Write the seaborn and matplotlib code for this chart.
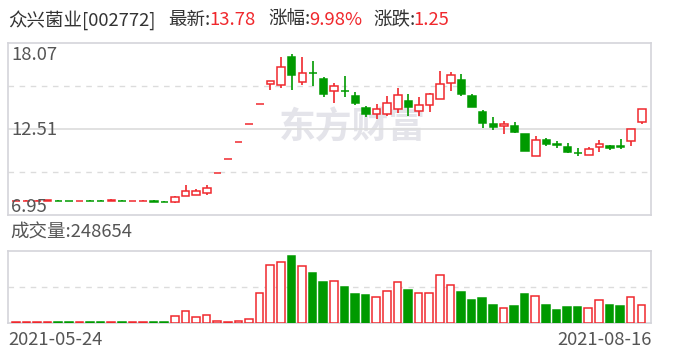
import matplotlib
matplotlib.use("Agg")
import matplotlib.pyplot as plt
import seaborn as sns
import numpy as np
import pandas as pd

# ---------------- data ----------------
stock_name = "众兴菌业[002772]"
latest = "13.78"
pct_change = "9.98%"
change = "1.25"
last_volume = "248654"
start_date = "2021-05-24"
end_date = "2021-08-16"
y_labels = ["18.07", "12.51", "6.95"]
y_min, y_max = 6.95, 18.07

opens = [7.86, 7.87, 7.87, 7.87, 7.88, 7.86, 7.86, 7.88, 7.88, 7.87,
         7.88, 7.84, 7.85, 7.88, 7.81, 7.81, 8.20, 8.26, 8.39, 9.63,
         10.59, 11.65, 12.82, 14.10, 15.39, 15.32, 17.15, 15.51, 16.12, 15.73,
         14.93, 14.98, 14.63, 13.86, 13.49, 13.45, 13.77, 14.29, 13.64, 14.03,
         14.42, 15.45, 15.64, 14.63, 13.60, 12.82, 12.67, 12.69, 12.18, 10.74,
         11.77, 11.50, 11.34, 10.96, 10.80, 11.32, 11.40, 11.39, 11.71, 12.93]
highs = [7.89, 7.89, 7.89, 7.95, 7.89, 7.87, 7.88, 7.92, 7.89, 7.96,
         7.89, 7.86, 7.90, 7.89, 7.84, 8.18, 8.87, 8.63, 8.87, 9.63,
         10.59, 11.65, 12.82, 14.10, 15.60, 17.15, 17.32, 17.15, 16.89, 15.88,
         15.47, 15.92, 14.89, 13.99, 14.11, 14.63, 15.15, 14.76, 14.55, 14.82,
         16.26, 16.18, 16.05, 14.76, 13.73, 13.27, 13.02, 12.95, 12.18, 12.03,
         11.92, 11.71, 11.60, 11.27, 11.32, 11.79, 11.47, 11.86, 12.53, 13.78]
lows = [7.85, 7.86, 7.86, 7.86, 7.86, 7.84, 7.85, 7.86, 7.86, 7.86,
        7.86, 7.83, 7.84, 7.81, 7.78, 7.74, 8.20, 8.25, 8.26, 9.63,
        10.59, 11.65, 12.82, 14.10, 15.04, 15.13, 15.04, 15.36, 15.30, 14.55,
        14.16, 14.59, 14.05, 13.26, 13.17, 13.34, 13.55, 13.34, 13.36, 13.62,
        14.42, 14.97, 14.65, 13.94, 12.58, 12.44, 12.18, 12.26, 11.10, 10.74,
        11.42, 11.27, 10.97, 10.78, 10.80, 11.04, 11.16, 11.23, 11.42, 12.84]
closes = [7.88, 7.88, 7.88, 7.89, 7.87, 7.85, 7.87, 7.87, 7.87, 7.89,
          7.87, 7.85, 7.86, 7.82, 7.79, 8.09, 8.48, 8.48, 8.71, 9.63,
          10.59, 11.65, 12.82, 14.10, 15.58, 16.48, 16.00, 16.09, 16.10, 14.78,
          15.26, 14.96, 14.16, 13.49, 13.81, 14.16, 14.68, 13.94, 14.03, 14.74,
          15.39, 15.97, 14.78, 13.94, 12.91, 12.65, 12.82, 12.33, 11.10, 11.77,
          11.51, 11.48, 11.04, 10.94, 11.19, 11.51, 11.29, 11.37, 12.53, 13.78]
volumes = [13000, 13500, 12500, 13500, 12000, 13000, 13500, 12500, 13000, 13500,
           12500, 13000, 13500, 12500, 13000, 90400, 158200, 76900, 104000, 27100,
           13600, 27100, 49700, 402400, 786700, 822800, 908700, 773100, 678200, 556100,
           565100, 483700, 393300, 375200, 357200, 438500, 560600, 443100, 411400, 411400,
           655500, 519900, 415900, 307400, 334600, 239600, 208000, 226100, 388800, 370700,
           239600, 171800, 212500, 212500, 208000, 316500, 239600, 235100, 357200, 248654]
volume_top = 972000

# ---------------- style ----------------
sns.set_theme(style="white")
plt.rcParams["font.family"] = ["Noto Sans CJK SC", "DejaVu Sans"]

RED = "#f0282d"
GREEN = "#009a00"
BORDER = "#d4d4da"
GRID = "#dcdcdc"
TXT = "#555555"
DARK = "#333333"

W, H = 688, 360
fig = plt.figure(figsize=(W / 100, H / 100), dpi=100)
fig.patch.set_facecolor("white")


def fx(px):
    return px / W


def fy(py):
    return 1 - py / H


ax = fig.add_axes([fx(8.3), fy(215), fx(651.3 - 8.3), (215 - 42.7) / H])
axv = fig.add_axes([fx(8.3), fy(323), fx(650.7 - 8.3), (323 - 251.3) / H])

df = pd.DataFrame({"i": np.arange(len(opens)), "open": opens, "high": highs,
                   "low": lows, "close": closes, "volume": volumes})
df["up"] = df["close"] >= df["open"]
df["color"] = np.where(df["up"], RED, GREEN)
df["face"] = np.where(df["up"], "white", GREEN)

XL = (-0.71, 59.89)
BW = 0.71

# ---- price panel ----
mid = (y_min + y_max) / 2
ax.axhline(mid, color=GRID, lw=1.2, zorder=0)
for q in (0.25, 0.75):
    ax.axhline(y_min + (y_max - y_min) * q, color=GRID, lw=1.0,
               ls=(0, (4, 4)), zorder=0)

ax.vlines(df["i"], df["low"], df["high"], colors=df["color"], lw=1.2, zorder=2)
bottoms = np.minimum(df["open"], df["close"])
heights = np.abs(df["close"] - df["open"])
ax.bar(df["i"], heights, bottom=bottoms, width=BW, color=df["face"],
       edgecolor=df["color"], linewidth=1.1, zorder=3)

ax.set_xlim(*XL)
ax.set_ylim(y_min, y_max)
ax.set_xticks([])
ax.set_yticks([])
for s in ax.spines.values():
    s.set_color(BORDER)
    s.set_linewidth(1.2)

# ---- volume panel ----
sns.barplot(data=df, x="i", y="volume", ax=axv, width=BW, errorbar=None,
            native_scale=True, color=RED, zorder=3)
for p, fc, ec in zip(axv.patches, df["face"], df["color"]):
    p.set_facecolor(fc)
    p.set_edgecolor(ec)
    p.set_linewidth(1.1)
axv.axhline(volume_top / 2, color=GRID, lw=1.0, ls=(0, (4, 4)), zorder=0)
axv.set_xlim(*XL)
axv.set_ylim(0, volume_top)
axv.set_xticks([])
axv.set_yticks([])
axv.set_xlabel("")
axv.set_ylabel("")
for s in axv.spines.values():
    s.set_color(BORDER)
    s.set_linewidth(1.2)

# ---- texts ----
FS = 13.3
fig.text(fx(279), fy(128), "东方财富", fontsize=26.5, fontweight="bold",
         color="#e4e4ea", ha="left", va="center", zorder=0)
ax.set_zorder(2)
ax.patch.set_alpha(0)

hy = fy(20)
fig.text(fx(8), hy, stock_name, fontsize=FS, color=DARK, va="center")
fig.text(fx(168), hy, "最新:", fontsize=FS, color=DARK, va="center")
fig.text(fx(209), hy, latest, fontsize=FS, color=RED, va="center")
fig.text(fx(268), hy, "涨幅:", fontsize=FS, color=DARK, va="center")
fig.text(fx(309), hy, pct_change, fontsize=FS, color=RED, va="center")
fig.text(fx(373), hy, "涨跌:", fontsize=FS, color=DARK, va="center")
fig.text(fx(413), hy, change, fontsize=FS, color=RED, va="center")

fig.text(fx(11), fy(55), y_labels[0], fontsize=FS, color=TXT, va="center")
fig.text(fx(11), fy(130), y_labels[1], fontsize=FS, color=TXT, va="center")
fig.text(fx(11), fy(207), y_labels[2], fontsize=FS, color=TXT, va="center")

fig.text(fx(10), fy(233), "成交量:" + last_volume, fontsize=FS, color=TXT, va="center")
fig.text(fx(8), fy(340), start_date, fontsize=FS, color=TXT, va="center")
fig.text(fx(652), fy(340), end_date, fontsize=FS, color=TXT, va="center", ha="right")

fig.savefig("out.png", dpi=100, facecolor="white")
